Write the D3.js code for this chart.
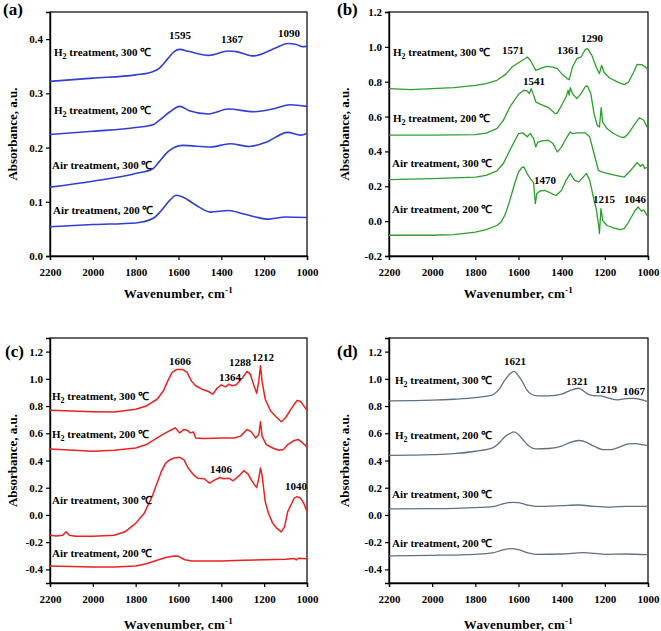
<!DOCTYPE html>
<html><head><meta charset="utf-8">
<script src="https://cdn.jsdelivr.net/npm/d3@7"></script>
<style>
body{margin:0;background:#fff}
text{font-family:"Liberation Serif","Times New Roman",serif;font-weight:bold;fill:#000}
</style>
</head><body>
<svg id="chart" width="661" height="631"></svg>
<script>
// ---------- data ----------
const xTicks = [2200, 2000, 1800, 1600, 1400, 1200, 1000];
const yTicksA = [0, 0.1, 0.2, 0.3, 0.4];
const yTicksB = [-0.2, 0, 0.2, 0.4, 0.6, 0.8, 1.0, 1.2];
const yTicksCD = [-0.4, -0.2, 0, 0.2, 0.4, 0.6, 0.8, 1.0, 1.2];
const seriesNames = ["H2 treatment, 300 ℃", "H2 treatment, 200 ℃", "Air treatment, 300 ℃", "Air treatment, 200 ℃"];

// panel (a)
const aH2_300 = [[2200,0.322],[2000,0.328],[1800,0.334],[1720,0.340],[1690,0.346],[1650,0.364],[1620,0.377],[1595,0.381],[1550,0.377],[1460,0.370],[1367,0.378],[1330,0.377],[1250,0.369],[1150,0.383],[1090,0.392],[1050,0.390],[1020,0.386],[1000,0.387]];
const aH2_200 = [[2200,0.224],[2000,0.230],[1800,0.237],[1720,0.242],[1690,0.250],[1640,0.266],[1595,0.276],[1550,0.268],[1460,0.262],[1367,0.271],[1250,0.266],[1150,0.272],[1080,0.279],[1000,0.276]];
const aAir_300 = [[2200,0.127],[2000,0.138],[1800,0.152],[1720,0.161],[1690,0.174],[1650,0.192],[1620,0.200],[1580,0.204],[1450,0.201],[1360,0.207],[1270,0.202],[1190,0.210],[1090,0.228],[1030,0.223],[1000,0.226]];
const aAir_200 = [[2200,0.054],[2000,0.058],[1800,0.061],[1720,0.069],[1680,0.084],[1640,0.103],[1610,0.112],[1580,0.109],[1520,0.094],[1450,0.081],[1367,0.084],[1300,0.078],[1240,0.072],[1180,0.068],[1100,0.072],[1000,0.071]];

// panel (b)
const bH2_300 = [[2200,0.760],[2100,0.755],[2000,0.760],[1900,0.766],[1800,0.779],[1750,0.789],[1700,0.808],[1660,0.842],[1630,0.884],[1600,0.909],[1571,0.932],[1560,0.942],[1545,0.923],[1520,0.865],[1500,0.875],[1470,0.888],[1440,0.884],[1420,0.875],[1400,0.846],[1375,0.818],[1365,0.812],[1350,0.884],[1330,0.932],[1310,0.942],[1290,0.986],[1280,0.990],[1260,0.951],[1240,0.884],[1225,0.846],[1215,0.894],[1205,0.857],[1180,0.823],[1140,0.798],[1110,0.783],[1090,0.798],[1070,0.846],[1050,0.900],[1030,0.898],[1010,0.884],[1000,0.865]];
const bH2_200 = [[2200,0.493],[2000,0.493],[1800,0.496],[1750,0.505],[1700,0.531],[1670,0.579],[1640,0.655],[1600,0.728],[1575,0.751],[1560,0.747],[1550,0.732],[1541,0.760],[1530,0.723],[1520,0.684],[1500,0.671],[1460,0.651],[1430,0.617],[1420,0.621],[1400,0.665],[1380,0.712],[1370,0.751],[1365,0.723],[1360,0.766],[1350,0.732],[1330,0.703],[1310,0.732],[1290,0.774],[1280,0.774],[1265,0.732],[1250,0.617],[1235,0.549],[1225,0.540],[1217,0.651],[1210,0.568],[1190,0.531],[1160,0.503],[1130,0.484],[1110,0.480],[1090,0.503],[1060,0.560],[1040,0.593],[1020,0.579],[1005,0.541],[1000,0.535]];
const bAir_300 = [[2200,0.238],[2000,0.244],[1800,0.253],[1750,0.263],[1700,0.288],[1670,0.331],[1640,0.407],[1600,0.502],[1580,0.507],[1560,0.484],[1545,0.503],[1530,0.474],[1520,0.426],[1510,0.454],[1490,0.460],[1460,0.463],[1440,0.445],[1420,0.397],[1400,0.426],[1380,0.474],[1360,0.512],[1350,0.502],[1330,0.507],[1290,0.506],[1270,0.484],[1250,0.388],[1230,0.292],[1215,0.283],[1190,0.274],[1150,0.263],[1110,0.253],[1080,0.292],[1050,0.336],[1035,0.315],[1025,0.327],[1015,0.302],[1000,0.311]];
const bAir_200 = [[2200,-0.081],[2000,-0.081],[1900,-0.077],[1800,-0.063],[1750,-0.049],[1700,-0.025],[1680,-0.005],[1660,0.043],[1640,0.120],[1620,0.206],[1600,0.282],[1585,0.307],[1575,0.311],[1560,0.273],[1545,0.244],[1530,0.219],[1522,0.101],[1515,0.158],[1500,0.173],[1480,0.177],[1460,0.167],[1440,0.154],[1425,0.148],[1400,0.177],[1380,0.234],[1370,0.254],[1360,0.273],[1340,0.234],[1320,0.225],[1300,0.254],[1285,0.273],[1270,0.234],[1250,0.120],[1240,0.072],[1230,-0.014],[1225,-0.071],[1218,0.072],[1210,0.004],[1190,-0.025],[1160,-0.038],[1130,-0.049],[1110,-0.043],[1090,-0.005],[1060,0.061],[1046,0.081],[1030,0.057],[1020,0.065],[1000,0.024]];

// panel (c)
const cH2_300 = [[2200,0.770],[2000,0.759],[1900,0.756],[1800,0.776],[1750,0.801],[1700,0.850],[1670,0.912],[1650,0.985],[1630,1.047],[1610,1.068],[1580,1.068],[1560,1.047],[1540,0.985],[1520,0.949],[1490,0.924],[1460,0.907],[1440,0.887],[1420,0.931],[1400,0.956],[1380,0.941],[1364,0.961],[1350,0.949],[1330,0.956],[1300,1.010],[1280,1.055],[1265,1.035],[1250,0.961],[1235,0.894],[1225,0.985],[1217,1.096],[1210,0.985],[1195,0.850],[1170,0.764],[1140,0.714],[1120,0.685],[1100,0.714],[1080,0.764],[1060,0.813],[1045,0.842],[1030,0.833],[1015,0.801],[1000,0.769]];
const cH2_200 = [[2200,0.485],[2000,0.468],[1900,0.475],[1800,0.492],[1750,0.517],[1700,0.566],[1660,0.603],[1630,0.628],[1615,0.640],[1595,0.603],[1575,0.628],[1560,0.623],[1545,0.603],[1530,0.610],[1520,0.566],[1480,0.561],[1400,0.566],[1340,0.566],[1310,0.579],[1280,0.628],[1260,0.610],[1240,0.566],[1225,0.591],[1217,0.685],[1210,0.579],[1190,0.517],[1160,0.492],[1130,0.475],[1110,0.480],[1090,0.517],[1060,0.547],[1040,0.554],[1020,0.529],[1000,0.500]];
const cAir_300 = [[2200,-0.149],[2170,-0.154],[2140,-0.149],[2125,-0.124],[2110,-0.149],[2080,-0.156],[2000,-0.156],[1900,-0.149],[1850,-0.124],[1800,-0.062],[1760,0.012],[1720,0.147],[1700,0.234],[1680,0.320],[1660,0.381],[1640,0.406],[1620,0.418],[1595,0.423],[1575,0.406],[1555,0.345],[1530,0.295],[1510,0.270],[1480,0.266],[1455,0.234],[1430,0.258],[1406,0.275],[1390,0.266],[1365,0.270],[1345,0.251],[1320,0.283],[1295,0.325],[1275,0.300],[1260,0.258],[1245,0.221],[1235,0.201],[1225,0.270],[1217,0.345],[1210,0.295],[1195,0.098],[1180,0.012],[1160,-0.062],[1140,-0.099],[1120,-0.124],[1105,-0.087],[1090,0.024],[1075,0.073],[1060,0.123],[1045,0.135],[1030,0.123],[1015,0.086],[1000,0.024]];
const cAir_200 = [[2200,-0.375],[2000,-0.383],[1900,-0.383],[1800,-0.375],[1750,-0.358],[1700,-0.333],[1660,-0.313],[1620,-0.301],[1600,-0.304],[1570,-0.329],[1540,-0.338],[1400,-0.338],[1300,-0.333],[1200,-0.329],[1100,-0.326],[1060,-0.320],[1050,-0.330],[1040,-0.318],[1000,-0.321]];

// panel (d)
const dH2_300 = [[2200,0.838],[2000,0.843],[1900,0.850],[1800,0.862],[1720,0.882],[1690,0.924],[1660,0.998],[1640,1.035],[1621,1.055],[1600,1.022],[1580,0.973],[1560,0.916],[1540,0.887],[1510,0.875],[1460,0.875],[1400,0.887],[1360,0.916],[1321,0.931],[1300,0.912],[1270,0.882],[1240,0.875],[1219,0.875],[1190,0.862],[1140,0.845],[1100,0.855],[1067,0.857],[1040,0.850],[1000,0.833]];
const dH2_200 = [[2200,0.438],[2000,0.443],[1900,0.450],[1800,0.468],[1720,0.492],[1690,0.529],[1660,0.579],[1640,0.598],[1621,0.611],[1600,0.591],[1580,0.554],[1550,0.505],[1520,0.485],[1460,0.488],[1400,0.505],[1360,0.534],[1321,0.547],[1290,0.537],[1250,0.505],[1210,0.480],[1170,0.480],[1130,0.500],[1090,0.522],[1060,0.524],[1030,0.517],[1000,0.510]];
const dAir_300 = [[2200,0.044],[2000,0.046],[1800,0.054],[1720,0.061],[1680,0.078],[1630,0.093],[1600,0.091],[1560,0.073],[1520,0.063],[1400,0.068],[1321,0.073],[1250,0.063],[1170,0.058],[1100,0.063],[1000,0.063]];
const dAir_200 = [[2200,-0.301],[2000,-0.297],[1800,-0.289],[1720,-0.279],[1680,-0.260],[1630,-0.247],[1600,-0.255],[1560,-0.277],[1520,-0.289],[1400,-0.287],[1300,-0.277],[1200,-0.289],[1100,-0.287],[1000,-0.292]];

const peaksA = ["1595", "1367", "1090"];
const peaksB = ["1571", "1361", "1290", "1541", "1470", "1215", "1046"];
const peaksC = ["1606", "1364", "1288", "1212", "1406", "1040"];
const peaksD = ["1621", "1321", "1219", "1067"];

// ---------- layout ----------
const panels = [
  {letter:"(a)", lx:3, ly:15, box:{l:50,r:307,t:12,b:256}, ydom:[0,0.45], yticks:yTicksA, color:"#2f3fd8", lw:1.6,
   series:[aH2_300,aH2_200,aAir_300,aAir_200], smooth:true,
   labelPos:[[54,56],[54,114],[52,169],[53,214]],
   peaks:peaksA, peakPos:[[180,39],[232,43],[289,37]], ytx:13, xtY:298},
  {letter:"(b)", lx:337, ly:15, box:{l:389,r:648,t:12,b:256}, ydom:[-0.2,1.2], yticks:yTicksB, color:"#2ca02c", lw:1.3,
   series:[bH2_300,bH2_200,bAir_300,bAir_200], smooth:false,
   labelPos:[[393,56],[393,122],[392,167],[392,213]],
   peaks:peaksB, peakPos:[[513,54],[568,54],[592,42],[534,85],[545,184],[604,203],[635,203]], ytx:345, xtY:298},
  {letter:"(c)", lx:5, ly:357, box:{l:50,r:307,t:338,b:583}, ydom:[-0.5,1.3], yticks:yTicksCD, color:"#ee2020", lw:1.5,
   series:[cH2_300,cH2_200,cAir_300,cAir_200], smooth:false,
   labelPos:[[52,400],[52,438],[52,504],[52,557]],
   peaks:peaksC, peakPos:[[180,365],[230,381],[240,366],[263,361],[221,473],[296,490]], ytx:13, xtY:629},
  {letter:"(d)", lx:337, ly:357, box:{l:389,r:648,t:338,b:583}, ydom:[-0.5,1.3], yticks:yTicksCD, color:"#5f7282", lw:1.3,
   series:[dH2_300,dH2_200,dAir_300,dAir_200], smooth:true,
   labelPos:[[395,384],[395,439],[392,498],[392,547]],
   peaks:peaksD, peakPos:[[515,365],[577,385],[606,393],[634,395]], ytx:345, xtY:629}
];

const svg = d3.select("#chart");

function seriesLabel(g, name, x, y) {
  const t = g.append("text").attr("x", x).attr("y", y).attr("font-size", 11);
  if (name.startsWith("H2")) {
    t.append("tspan").text("H");
    t.append("tspan").attr("font-size", 8).attr("dy", 3).text("2");
    t.append("tspan").attr("dy", -3).text(name.slice(2));
  } else {
    t.text(name);
  }
}

panels.forEach(p => {
  const g = svg.append("g");
  const x = d3.scaleLinear().domain([2200, 1000]).range([p.box.l, p.box.r]);
  const y = d3.scaleLinear().domain(p.ydom).range([p.box.b, p.box.t]);

  // frame
  g.append("rect").attr("x", p.box.l).attr("y", p.box.t)
    .attr("width", p.box.r - p.box.l).attr("height", p.box.b - p.box.t)
    .attr("fill", "none").attr("stroke", "#000").attr("stroke-width", 1.2);

  // axes
  const xa = g.append("g").attr("transform", `translate(0,${p.box.b})`)
    .call(d3.axisBottom(x).tickValues(xTicks).tickSize(4).tickPadding(8).tickFormat(d => d));
  const ya = g.append("g").attr("transform", `translate(${p.box.l},0)`)
    .call(d3.axisLeft(y).tickValues(p.yticks).tickSize(4).tickPadding(3).tickFormat(d => d.toFixed(1)));
  [xa, ya].forEach(a => {
    a.selectAll("text").attr("font-size", 11).style("font-family", '"Liberation Serif","Times New Roman",serif').style("font-weight", "bold");
    a.select(".domain").attr("stroke-width", 1.4);
    a.selectAll(".tick line").attr("stroke-width", 1.2);
  });

  // curves
  const line = d3.line().x(d => x(d[0])).y(d => y(d[1]))
    .curve(p.smooth ? d3.curveMonotoneX : d3.curveLinear);
  p.series.forEach(s => {
    g.append("path").datum(s).attr("d", line).attr("fill", "none")
      .attr("stroke", p.color).attr("stroke-width", p.lw).attr("stroke-linejoin", "round");
  });

  // series labels
  seriesNames.forEach((n, i) => seriesLabel(g, n, p.labelPos[i][0], p.labelPos[i][1]));

  // peak labels
  p.peaks.forEach((pk, i) => {
    g.append("text").attr("x", p.peakPos[i][0]).attr("y", p.peakPos[i][1])
      .attr("text-anchor", "middle").attr("font-size", 11).text(pk);
  });

  // panel letter
  g.append("text").attr("x", p.lx).attr("y", p.ly).attr("font-size", 17).text(p.letter);

  // axis titles
  const cx = (p.box.l + p.box.r) / 2;
  const xt = g.append("text").attr("x", cx).attr("y", p.xtY).attr("text-anchor", "middle")
    .attr("font-size", 13).attr("letter-spacing", 0.3);
  xt.append("tspan").text("Wavenumber, cm");
  xt.append("tspan").attr("font-size", 9).attr("dy", -5).text("-1");

  const cy = (p.box.t + p.box.b) / 2;
  g.append("text").attr("transform", `translate(${p.ytx + 4},${cy}) rotate(-90)`)
    .attr("text-anchor", "middle").attr("font-size", 13).text("Absorbance, a.u.");
});
</script>
</body></html>
